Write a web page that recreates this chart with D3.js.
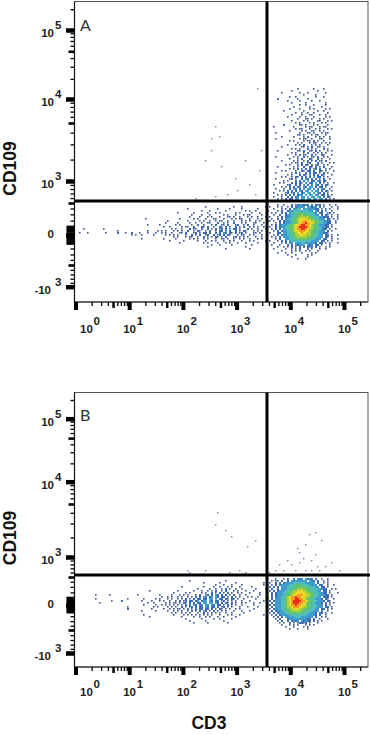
<!DOCTYPE html>
<html><head><meta charset="utf-8">
<script src="https://cdn.jsdelivr.net/npm/d3@7/dist/d3.min.js"></script>
<style>html,body{margin:0;padding:0;background:#fff}svg{display:block}</style>
</head><body><div id="c"></div>
<script>
// density levels per channel bin (rows top to bottom); '.' = no events
const cloudA_col = 97, cloudA_row = 43;
const cloudA = [
"..............1.......1....1......",
"...........1............1.........",
"......1........1...1........1.....",
".................1.....1..........",
"..........1..1.........1...1......",
"....2.........1....1..............",
".........1.....1.....1...1........",
"...........1......1.........1.....",
"...............1..1...1.....1.....",
"............1.......1.....1.......",
"..........1....1....1.1.....1.1...",
".......1.........1......1..1......",
".............1..1..1..1......1....",
"...........1....1...11...1..1.....",
".........1.....1..1...1.....1.1...",
"..............1...11.1...1.1......",
"...........1.....1.1....11...1.1..",
".............1.1....1.1...1.1.....",
".......2.......11.1...1.1....1....",
"..1.........1.....1.11...1.11.....",
".............1.11...1..1.1...1.1..",
"..........1.....1.1..11..1.1......",
"...1...........1...11.1...1.11....",
"..............11.1...1.11...1.....",
"......1.....1....1.2...1.1.1..1...",
"...1...........1.11..1...11...1...",
"..........1.1....1.11.2.1..1......",
"..............1.1...1.11..1.1.1...",
".........1...1.1.2...1.1.1...1....",
"......1.........11.1.2..11.1......",
"...........1.1.1...2.1.1...2.1....",
"....1.........11.2..11.2.1...1.1..",
"...........1.1...1.2..1.1.1.1.....",
".........1...1.2.11..2.1..21...1..",
"...1........1.1..2.1.11.2..1.1....",
"..........1...1.2...21..2.1...1...",
"......1.....1.1..1.2.1.2.11.2.....",
"...........1.11.2..12...2.1...1.1.",
"........1.1...1.2.21.2.12..1.1....",
"....1.......1.1..2..21.2.1.2...1..",
"..........1.1.2.1.2.2.12.2..1.1...",
"......1.1....1..21.22.2..21.1...1.",
"...1.......1.2.1..2.2.22.1.2.1....",
".........1.1...2.21.3.2.2.21...1..",
"......1.1..1.21.2.2.2.3.22.1.1....",
"...1......12.1..2.32.2.2.1.2..1...",
".......1.1...2.2.2.3.22.32.21.....",
".....1.1...2.2.21.3.22.3.2.1.1..1.",
"..1......12..2.2.3.2.3.32.2.21....",
"......1.1.2.2.21.32.33.2.22.1..1..",
"...1...1..2.12.2.3.33.3.2.32..1...",
".....1.1.2.2.2.32.33.4.33.2.21.1..",
"..1.....12.12.3.23.43.3.32.2.1....",
"....1.1.2.2.2.233.3.34.33.22.2.1..",
"..1...1..2.2.23.33.4.33.43.2.21...",
"....1.1.2.22.33.34.33.43.33.2.1.1."
];
const blobA_col = 96, blobA_row = 101;
const blobA = [
"1....1..1...2.1233232.2.212.1..1..1",
".1...1.1..1.2.23333.33233.2.1...1..1",
"...1...1.1.2.3344.34333322.1.1.1...1",
"1....1.2..2334444344433.32.2.1..1",
"..1.1..2.2.34445554444433.22..12.1",
"...1..2..23344555655544433.2.21.1..1",
".1...1.2.2334455666665544433222.1..1",
"..1..2.2.33445567777665544333.21.1.1",
".1.1..2.233345567788776655443322..1",
"....1.2.233345567889877655443322..1",
"..1.2.2333455677899887655433322.1",
".1..2.2334455678999987655443322.1",
"..1.2.2.3445567889987665544322.1..1",
"...1.2.2334456778887765544333.2.1",
".1...22.33445567787766554433221",
"...1.2.233445566777666554433.22.1..1",
"..1.1.2.33344556666655544333.21.1",
"....1.2..334445555555444333.22..1..1",
".1...1.2.2.344444444443333.22.1.1",
"...1...1.2.33.33344333332.22.1.1...1",
"..1...1...2.2.32333.323.22.1...1",
".....1..1.1.2.1.2.2.212.2.1..1.1",
"...1.....1..1.1.2...2.1...1..1",
".......1....1.1.1..1.1...1",
".....1...1..1....1....1.1",
"..........1...1.....1.1",
"............1.......1",
"...............1...1"
];
const tailA_col = 2, tailA_row = 102;
const tailA = [
"...............................................................1.............1...1...........1",
"......................................................1..............1.....1.....1.......1....",
".............................................................1...1.......1.........1.1..1.....1",
".................................................1.......1......1...1.1.......1.1.....1...1....",
"........................................................1....1...1......1.1...1...1.11.....1...",
".......................................................1....1...1.1...1...11.1..1...1.1..1...1.",
".................................1................1......1.1...1...11...1...1.1.11...1...1.1...",
"............................................1.........1.....1.1..1..1.11..1..1...1.1.1..1.1...1",
"...........................................1.....1.....1..1..1..11...2..1.1..2...1.1...11...1..",
"..................................1.....1.......1.1.....1..2..1...1.2..11.2...12..1.2..1...1...",
"..........................................1..1.....1.11..2...21.2..1..21.2.1..2.1.2..1.1.1..1..",
"..1.........1.................................1.1..1...2.11..2..2.1.2.12.2.1.22.1...2.1..1...1.",
"...................1..............1....1.1.1...1.1.1..2..1.21..1.2..1.22.3.2..2.1.21...1.1.1...",
"1...1........1.....2...1..2...1...1...1..1.1..1...11.2...12.1.22.2..2.2.32.21.2.12.1...11.1...",
"..........................1.1..1.....1.....1.1.1.1...1..2.1.2..12..2.12.2.21...1.11..1.1...1...",
"...............................................1.1...1.11..1..2.1.1.21.1.2...12.1.1.1...1..1...",
"...............................1..........1.....1......1.1.1..1.1...1..11.1..1..1.1..1...1.1...",
".............................................1......1......1...1..1.1...1..1.1...1...1.1.....1.",
"..................................................1...........1.1....1...1.1...1...1.....1.....",
"..................................................................1...1.....1.........1........",
"................................................................1..................1...........",
".........................................................................1...........1........"
];
const strayA = [[91,43],[70,62],[68,68],[72,67],[68,74],[65,79],[73,82],[80,88],[85,79],[87,91],[81,94],[90,96],[92,84],[76,96],[70,97],[60,98],[93,74]];

const blobB_col = 96, blobB_row = 93;
const blobB = [
"....1...1.2..2.323.3232.2..1..1",
"..1..1.2..2.33333333.332.2..1.1",
".1..2.2.2333344444433333.2..1.1",
"1...2.2333344455544443333.22..1..1",
".1.2.2.3334445555555444433.22.1",
"1.2..2.33344455666655544443322..1.1",
".1.2.2333445566777665544433.22.1",
"1.2.23334455667777766554443322.1...1",
"..2.233344556778887766554433322.1",
"1.2.23344567889887766554433.222.1",
"1.2.333445678899887655443332.21..1",
".2.23334456789999887655443332.21",
"1.2.333445678999887655443332.2.1.1",
".2.2333445678898877655444333.2.1",
"1.2.333445667888776655444333.22.1",
".1.23334455667776655544433.22.1.1",
"1.2.2333445566666555444333.2..1",
".1.2.23334455555554443332.22.1..1",
"..1.2.2333344444444433332.2..1",
"...1.2.2.33333444333333.2..1.1",
"....1.2...233333333322.2..1...1",
".....1.2..2.2323.32322.2.1.1",
"......1.1..2.1.12212.1...1",
".......1...1.1.1...1.1.1",
".........1...1....1.1",
"...........1...1....1"
];
const tailB_col = 8, tailB_row = 94;
const tailB = [
".................................................1.................1........................1",
"........................................................1.......1.......1.............1......",
"..............................................................1...1...1....1..........1...1...",
".............................................1..........1....1..1...1.1...1.....1........1....",
".....................................................1.....1..1..1.2.1..1..1......1....1......",
".............................1.............1.......1...1..1.1.2..1.2...1.1...1...1.......1....",
".........................................1.....1.1.....1.1..2.1.2.1.2.1..1.1...1....1........",
"..1......1.............1..........1.....1...1.1.1...1.2..12.2.32.2.2.1.2..1..1......1.....1..",
"...................................1..1.1..1.1..1.1.2.2.12.23.32.22.1.2.1.1...1.1..1.........",
"..1...............1.......1.....1.1...1.1..1.1.2.1.2.22.22.33.3.22.21.21.1..1.....1.....1....",
"..........1....2.........1....1...1.1..1..1.2.12.22.23.233.32.22.12.1.1.1..1...1......1......",
"....1.......................1..1.....1.1.11.1.21.2.2.22.33.43.32.2.21.2.1..1.1...1..1........",
"..........................1.....1..1.1.1.1.1.1.2.2.12.23.33.32.22.1.2.1.1..1.....1......1....",
"..................1............1.1....1.1.1..2.1.12.2.22.32.22.2.12.1.1...1...1....1.........",
"..................2...........1.....1..1.1.11.1.2.1.2.22.22.2.1.21.1.1..1.1......1...........",
".........................1......1.....1..1.1.1..1.2.1.2.12.1.2.1.1.1...1...1...1.............",
"........................................1.1..1.1.1...1..2.1.1.1.1..1..1.....1................",
"..........................1..............1....1.1.1.1.1.1.1.1...1...1.1...1...........1......",
".............................1...............1.....1..1..1.1...1..1.....1....................",
"...............................................1.......1.....1..1.....1......................",
".................................................1.......1........1..........................",
"...................................................1......1.........1........................"
];
const strayB = [[71,60],[75,69],[78,72],[70,66],[86,77],[90,74],[117,71],[120,70],[123,74],
 [111,78],[112,80],[115,76],[106,84],[108,86],[112,85],[114,83],[118,84],[120,81],[121,87],[125,87],[128,85],
 [100,89],[104,89],[110,89],[115,89],[118,89],[122,89],[102,86],[97,90],[132,89],[82,89],[85,90],[65,89],[57,90],[77,90],[56,89]];

const levelColors = ["#3a5795","#3a6db5","#3f9bd0","#4fbdb8","#62c46e","#a6d03e","#ecd828","#f59a20","#e5301f"];
const levels = ["1","2","3","4","5","6","7","8","9"];
const strayColor = "#6f84b4";

const xMajor = [1,10,100,1000,10000,100000];
const xMid = [5,50,500,5000,50000];
const xMinor = [2,3,4,6,7,8,9,20,30,40,60,70,80,90,200,300,400,600,700,800,900,2000,3000,4000,6000,7000,8000,9000,20000,30000,40000,60000,70000,80000,90000,200000];
const xLabelExp = ["0","1","2","3","4","5"];
const yMajor = [-1000,0,1000,10000,100000];
const yBlock = [-115,-85,-55,-25,25,55,85,115];
const yMid = [-500,500,5000,50000];
const yMinor = [-900,-800,-700,-600,-400,-300,-200,200,300,400,600,700,800,900,2000,3000,4000,6000,7000,8000,9000,20000,30000,40000,60000,70000,80000,90000,200000];
const yLabels = [{v:100000,b:"10",e:"5"},{v:10000,b:"10",e:"4"},{v:1000,b:"10",e:"3"},{v:0,b:"0",e:""},{v:-1000,b:"-10",e:"3"}];
const yKnots = [-1000,-500,0,500,1000,5000,10000,100000,200000];
const gateCD3 = 3680;

const panels = [
 {name:"A", top:1.5, bottom:302, yPx:[286.7,265,235,203,181,123,99,30,9.2], gateY:201, rowTop:2,
  grids:[[tailA,tailA_col,tailA_row],[cloudA,cloudA_col,cloudA_row],[blobA,blobA_col,blobA_row]], stray:strayA, labelDy:31},
 {name:"B", top:392.5, bottom:667, yPx:[653,630,605,577,557,504,481.7,418.7,400], gateY:575, rowTop:392,
  grids:[[tailB,tailB_col,tailB_row],[blobB,blobB_col,blobB_row]], stray:strayB, labelDy:29}
];

const W=370,H=735,L=74.5,R=368;
const svg=d3.select("#c").append("svg").attr("width",W).attr("height",H).attr("font-family","'Liberation Sans',Arial,sans-serif");
svg.append("defs").append("filter").attr("id","soft").attr("x","-2%").attr("y","-2%").attr("width","104%").attr("height","104%")
  .append("feGaussianBlur").attr("stdDeviation",0.35);
const x=d3.scaleLog().domain([1,100000]).range([75.5,344]);
const colX=d3.scaleLinear().domain([0,147]).range([75,369]);
const color=d3.scaleOrdinal().domain(levels).range(levelColors);

panels.forEach(p=>{
  const g=svg.append("g");
  const y=d3.scaleSymlog().constant(1000).domain(yKnots).range(p.yPx);
  const rowY=d3.scaleLinear().domain([0,100]).range([p.rowTop,p.rowTop+200]);
  const cells=[];
  p.grids.forEach(([rows,c0,r0])=>rows.forEach((s,i)=>{for(let j=0;j<s.length;j++){if(s[j]!==".")cells.push({c:c0+j,r:r0+i,l:s[j]});}}));
  g.append("g").attr("filter","url(#soft)").selectAll("rect").data(cells).join("rect")
    .attr("x",d=>colX(d.c)).attr("y",d=>rowY(d.r))
    .attr("width",d=>d.l==="1"?1.6:2).attr("height",d=>d.l==="1"?1.6:2)
    .attr("fill",d=>color(d.l));
  g.append("g").selectAll("rect").data(p.stray).join("rect")
    .attr("x",d=>colX(d[0])).attr("y",d=>rowY(d[1])).attr("width",1.4).attr("height",1.4).attr("fill",strayColor);
  // frame
  g.append("rect").attr("x",L).attr("y",p.top).attr("width",R-L).attr("height",p.bottom-p.top)
    .attr("fill","none").attr("stroke","#555").attr("stroke-width",1);
  g.append("line").attr("x1",L).attr("x2",R).attr("y1",p.bottom).attr("y2",p.bottom).attr("stroke","#666").attr("stroke-width",2);
  g.append("line").attr("x1",L).attr("x2",L).attr("y1",p.top).attr("y2",p.bottom).attr("stroke","#111").attr("stroke-width",1.2);
  // gates
  g.append("line").attr("x1",x(gateCD3)).attr("x2",x(gateCD3)).attr("y1",p.top).attr("y2",p.bottom).attr("stroke","#000").attr("stroke-width",3);
  g.append("line").attr("x1",L).attr("x2",W).attr("y1",p.gateY).attr("y2",p.gateY).attr("stroke","#000").attr("stroke-width",3);
  // axes: one per tick class
  const tickSets=[[xMajor,8,4],[xMid,6,2.4],[xMinor,4,1.3]];
  tickSets.forEach(([vals,len,w])=>{
    const a=g.append("g").attr("transform",`translate(0,${p.bottom})`)
      .call(d3.axisBottom(x).tickValues(vals).tickSize(len).tickFormat(""));
    a.select(".domain").remove();
    a.selectAll("line").attr("stroke","#000").attr("stroke-width",w);
  });
  const yTickSets=[[yMajor,8.5,4.5],[yBlock,8,2.6],[yMid,6,2.6],[yMinor,4,1.3]];
  yTickSets.forEach(([vals,len,w])=>{
    const a=g.append("g").attr("transform",`translate(${L},0)`)
      .call(d3.axisLeft(y).tickValues(vals).tickSize(len).tickFormat(""));
    a.select(".domain").remove();
    a.selectAll("line").attr("stroke","#000").attr("stroke-width",w);
  });
  // x labels
  const lab=g.append("g").attr("font-weight","bold").attr("font-size",11.5).attr("fill","#222");
  xMajor.forEach((v,i)=>{
    const bx=x(v)+(i===0?4.5:-6), by=p.bottom+p.labelDy;
    lab.append("text").attr("x",bx).attr("y",by).text("10");
    lab.append("text").attr("x",bx+13.5).attr("y",by-8).text(xLabelExp[i]);
  });
  // y labels
  yLabels.forEach(d=>{
    const ty=y(d.v)+(d.v===0?3:7);
    lab.append("text").attr("x",d.v===0?54:(d.v<0?51:54)).attr("y",ty).attr("text-anchor","end").text(d.b);
    if(d.e)lab.append("text").attr("x",55).attr("y",ty-8).text(d.e);
  });
  // panel letter
  g.append("text").attr("x",80).attr("y",p.top+(p.name==="A"?29.5:28.5)).attr("font-family","Lato,'Open Sans',sans-serif").attr("font-size",16).attr("fill","#333").text(p.name);
  // y title
  g.append("text").attr("transform",`translate(16,${p.name==="A"?168.5:538}) rotate(-90)`).attr("text-anchor","middle")
    .attr("font-weight","bold").attr("font-size",17.5).attr("fill","#111").text("CD109");
});
svg.append("text").attr("x",209).attr("y",729).attr("text-anchor","middle").attr("font-weight","bold").attr("font-size",17.5).attr("fill","#111").text("CD3");
</script></body></html>
